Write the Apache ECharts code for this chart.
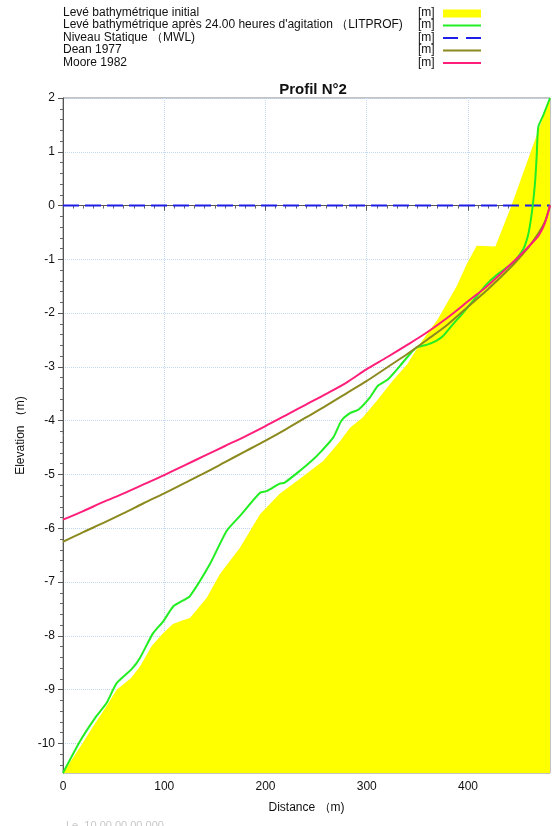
<!DOCTYPE html>
<html><head><meta charset="utf-8">
<script src="https://cdn.jsdelivr.net/npm/echarts@6/dist/echarts.min.js"></script>
<style>html,body{margin:0;padding:0;background:#fff;}#c{width:559px;height:826px;}</style>
</head><body><div id="c"></div>
<script>
// ---- data ----
const legendNames = [
  "Levé bathymétrique initial",
  "Levé bathymétrique après 24.00 heures d'agitation （LITPROF)",
  "Niveau Statique （MWL)",
  "Dean 1977",
  "Moore 1982"
];
const unitLabel = "[m]";
const xTickValues = [0, 100, 200, 300, 400];
const yTickValues = [2, 1, 0, -1, -2, -3, -4, -5, -6, -7, -8, -9, -10];

const distInitial = [0, 18.5, 31.6, 41.5, 53, 67, 76, 87.6, 98.8, 108.6, 118.5, 125.4, 142, 155, 174.8, 194.6, 214, 234, 257, 273.6, 283.5, 296, 310, 326, 340, 352.6, 370, 388.8, 398.7, 408.6, 427, 443, 462, 481];
const elevInitial = [-10.55, -10.02, -9.63, -9.35, -9.0, -8.79, -8.57, -8.19, -7.95, -7.78, -7.71, -7.67, -7.29, -6.85, -6.36, -5.74, -5.36, -5.08, -4.75, -4.38, -4.13, -3.94, -3.63, -3.25, -2.95, -2.57, -2.12, -1.5, -1.09, -0.745, -0.76, 0.0, 1.0, 2.0];

const distLitprof = [0, 16.8, 31.6, 43, 53, 67.8, 76, 89, 99, 109, 118.8, 125.4, 145, 161.6, 174.8, 194.6, 201, 214, 219, 234, 247, 255.5, 267, 275, 283.5, 292, 303, 311, 321, 332.8, 342.7, 349, 359, 369, 375.6, 385.5, 393, 405, 418.5, 428.3, 444.7, 454.6, 459.6, 462.9, 465.2, 466.5, 467.8, 469.4, 474.4, 481];
const elevLitprof = [-10.55, -9.96, -9.53, -9.25, -8.88, -8.62, -8.41, -7.95, -7.73, -7.45, -7.34, -7.26, -6.67, -6.05, -5.77, -5.34, -5.31, -5.17, -5.15, -4.93, -4.72, -4.56, -4.31, -4.0, -3.86, -3.79, -3.57, -3.35, -3.23, -2.98, -2.76, -2.64, -2.59, -2.51, -2.42, -2.2, -2.04, -1.77, -1.46, -1.29, -1.06, -0.81, -0.53, -0.155, 0.22, 0.5, 0.9, 1.46, 1.68, 2.0];

const distMwl = [0, 481];
const elevMwl = [0, 0];

const distDean = [0, 20, 40, 60, 80, 100, 120, 140, 160, 180, 200, 220, 240, 260, 280, 300, 320, 340, 360, 380, 400, 420, 440, 450, 460, 470, 476, 481];
const elevDean = [-6.25, -6.07, -5.90, -5.72, -5.53, -5.35, -5.16, -4.97, -4.77, -4.57, -4.37, -4.16, -3.94, -3.72, -3.49, -3.26, -3.01, -2.76, -2.49, -2.21, -1.88, -1.55, -1.19, -0.99, -0.77, -0.50, -0.30, 0.0];

const distMoore = [0, 20, 40, 60, 80, 100, 120, 140, 160, 180, 200, 220, 240, 260, 280, 300, 320, 340, 360, 380, 400, 420, 440, 450, 460, 470, 476, 481];
const elevMoore = [-5.84, -5.68, -5.51, -5.35, -5.18, -5.01, -4.83, -4.65, -4.47, -4.29, -4.10, -3.90, -3.70, -3.50, -3.29, -3.04, -2.82, -2.59, -2.35, -2.08, -1.78, -1.48, -1.13, -0.95, -0.76, -0.55, -0.32, 0.0];

// ---- chart ----
const X_MIN = 0, X_MAX = 481, Y_MIN = -10.55, Y_MAX = 2;
const zip = (xs, ys) => xs.map((x, i) => [x, ys[i]]);
const FONT = '"Liberation Sans", Arial, sans-serif';
const colors = ['#ffff00', '#22ee22', '#1e1ee6', '#8c8a1e', '#ff1f7a'];

// minor tick positions (10 m on x, 0.2 m on y)
const xMinor = [];
for (let v = 10; v < X_MAX; v += 10) if (v % 100 !== 0) xMinor.push(v);
const yMinor = [];
for (let k = Math.ceil(Y_MIN * 5); k <= Y_MAX * 5; k++) if (k % 5 !== 0) yMinor.push(k / 5);

const chart = echarts.init(document.getElementById('c'), null, {renderer: 'canvas'});

const legendRowsY = [13, 25.5, 38, 50.5, 63];
const legendGraphics = [];
legendNames.forEach((name, i) => {
  const y = legendRowsY[i];
  legendGraphics.push({type: 'text', left: 63, top: y - 6.5, style: {text: name, font: '12px ' + FONT, fill: '#111'}});
  legendGraphics.push({type: 'text', left: 418, top: y - 6.5, style: {text: unitLabel, font: '12px ' + FONT, fill: '#111'}});
  if (i === 0) {
    legendGraphics.push({type: 'rect', shape: {x: 443, y: y - 3.5, width: 38, height: 8}, style: {fill: colors[0]}});
  } else {
    legendGraphics.push({type: 'line', shape: {x1: 443, y1: y, x2: 481, y2: y},
      style: {stroke: colors[i], lineWidth: 2, lineDash: i === 2 ? [15, 8] : null}});
  }
});
legendGraphics.push({type: 'text', left: 66, top: 820, style: {text: 'Le  10 00 00 00 000', font: '11px ' + FONT, fill: '#c8c8c8'}});

const minorAxisCommon = {
  axisLine: {show: false}, axisLabel: {show: false}, splitLine: {show: false}, minorTick: {show: false}
};

chart.setOption({
  animation: false,
  backgroundColor: '#fff',
  title: {text: 'Profil N°2', left: 308, top: 77, textAlign: 'center',
    textStyle: {fontFamily: FONT, fontSize: 15, fontWeight: 'bold', color: '#111'}},
  grid: {left: 63, right: 9, top: 98, bottom: 53, show: true, borderColor: '#888', borderWidth: 1, backgroundColor: 'transparent'},
  graphic: legendGraphics,
  xAxis: [{
    type: 'value', min: X_MIN, max: X_MAX,
    name: 'Distance （m)', nameLocation: 'middle', nameGap: 29,
    nameTextStyle: {fontFamily: FONT, fontSize: 12, color: '#111'},
    axisLine: {show: true, lineStyle: {color: '#555', width: 1}},
    axisTick: {show: true, length: 5, lineStyle: {color: '#555'}, customValues: xTickValues},
    axisLabel: {fontFamily: FONT, fontSize: 12, color: '#111', margin: 8, customValues: xTickValues},
    splitLine: {show: true, lineStyle: {color: '#c2d8f2', type: 'dotted', width: 1}}
  }, Object.assign({
    type: 'value', min: X_MIN, max: X_MAX, position: 'bottom',
    axisTick: {show: true, length: 3, lineStyle: {color: '#666'}, customValues: xMinor}
  }, minorAxisCommon)],
  yAxis: [{
    type: 'value', min: Y_MIN, max: Y_MAX,
    name: 'Elevation （m)', nameLocation: 'middle', nameGap: 32, nameRotate: 90,
    nameTextStyle: {fontFamily: FONT, fontSize: 12, color: '#111'},
    axisLine: {show: true, lineStyle: {color: '#555', width: 1}},
    axisTick: {show: true, length: 5, lineStyle: {color: '#555'}, customValues: yTickValues},
    axisLabel: {fontFamily: FONT, fontSize: 12, color: '#111', margin: 8, customValues: yTickValues},
    splitLine: {show: true, lineStyle: {color: '#c2d8f2', type: 'dotted', width: 1}}
  }, Object.assign({
    type: 'value', min: Y_MIN, max: Y_MAX, position: 'left',
    axisTick: {show: true, length: 3, lineStyle: {color: '#666'}, customValues: yMinor}
  }, minorAxisCommon)],
  series: [
    {name: legendNames[0], type: 'line', data: zip(distInitial, elevInitial), symbol: 'none',
      lineStyle: {width: 0, color: colors[0]}, areaStyle: {color: colors[0], opacity: 1, origin: 'start'}, z: 1},
    {name: legendNames[2], type: 'line', data: zip(distMwl, elevMwl), symbol: 'none',
      lineStyle: {width: 2, color: colors[2], type: [16, 6]}, z: 2},
    {name: legendNames[1], type: 'line', data: zip(distLitprof, elevLitprof), symbol: 'none', smooth: 0.2,
      lineStyle: {width: 2, color: colors[1]}, z: 3},
    {name: legendNames[3], type: 'line', data: zip(distDean, elevDean), symbol: 'none', smooth: 0.3,
      lineStyle: {width: 2, color: colors[3]}, z: 4},
    {name: legendNames[4], type: 'line', data: zip(distMoore, elevMoore), symbol: 'none', smooth: 0.3,
      lineStyle: {width: 2, color: colors[4]}, z: 5}
  ]
});
</script></body></html>
